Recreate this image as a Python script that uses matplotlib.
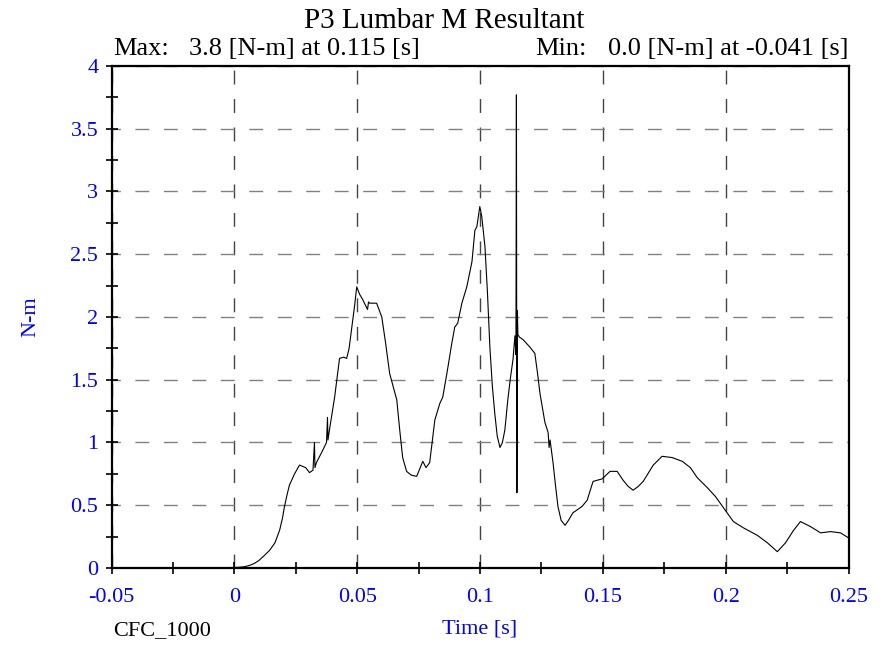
import numpy as np
import matplotlib.pyplot as plt
from matplotlib.ticker import MultipleLocator

plt.rcParams['font.family'] = ['Liberation Serif', 'DejaVu Serif']

# Lumbar moment resultant trace (time in s, moment in N-m)
time_s = [-0.05, -0.041, -0.03, -0.02, -0.01, -0.004, 0.0, 0.002, 0.004, 0.0061,
          0.0080, 0.0100, 0.0122, 0.0143, 0.0165, 0.0184, 0.0195, 0.0204, 0.0214,
          0.0224, 0.0245, 0.0265, 0.0290, 0.0306, 0.0320,
          0.0326, 0.0328, 0.0334, 0.0355, 0.0375, 0.0379, 0.0381, 0.0387, 0.0408,
          0.0420, 0.0428, 0.0445, 0.0457, 0.0467, 0.0477, 0.0490, 0.0498, 0.0510,
          0.0522, 0.0542, 0.0546, 0.0551, 0.0579, 0.0600, 0.0615, 0.0632, 0.0661,
          0.0673, 0.0685, 0.0701, 0.0720, 0.0742, 0.0767, 0.0780, 0.0795, 0.0805,
          0.0816, 0.0836, 0.0848, 0.0865, 0.0885, 0.0897, 0.0909, 0.0926, 0.0946,
          0.0967, 0.0979, 0.0987, 0.0999, 0.1007, 0.1020, 0.1030, 0.1040, 0.1050,
          0.1060, 0.1070, 0.1081, 0.1091, 0.1101, 0.1113, 0.1124, 0.1134, 0.1142,
          0.1146, 0.1148, 0.1150, 0.1152, 0.1154, 0.1160, 0.1175, 0.1203, 0.1223,
          0.1234, 0.1244, 0.1264, 0.1277, 0.1281, 0.1285, 0.1297, 0.1307, 0.1317,
          0.1330, 0.1346, 0.1360, 0.1378, 0.1415, 0.1436, 0.1460, 0.1497, 0.1529,
          0.1558, 0.1582, 0.1603, 0.1623, 0.1644, 0.1664, 0.1705, 0.1741, 0.1782,
          0.1823, 0.1856, 0.1884, 0.1925, 0.1958, 0.1998, 0.2031, 0.2072, 0.2129,
          0.2170, 0.2210, 0.2243, 0.2276, 0.2304, 0.2345, 0.2386, 0.2427, 0.2467,
          0.2500]
moment_nm = [0.002, 0.0, 0.001, 0.002, 0.002, 0.003, 0.004, 0.006, 0.010, 0.02,
             0.035, 0.06, 0.10, 0.14, 0.20, 0.30, 0.39, 0.49, 0.58,
             0.66, 0.75, 0.82, 0.80, 0.76, 0.78,
             1.00, 0.80, 0.84, 0.92, 1.00, 1.20, 1.02, 1.10, 1.36,
             1.55, 1.67, 1.68, 1.67, 1.75, 1.90, 2.10, 2.24, 2.18,
             2.14, 2.06, 2.12, 2.11, 2.11, 2.00, 1.80, 1.55, 1.34,
             1.10, 0.88, 0.77, 0.74, 0.73, 0.85, 0.80, 0.84, 1.00,
             1.18, 1.31, 1.36, 1.55, 1.79, 1.92, 1.95, 2.11, 2.24,
             2.44, 2.69, 2.72, 2.88, 2.80, 2.56, 2.20, 1.76, 1.45,
             1.23, 1.05, 0.96, 1.00, 1.10, 1.34, 1.52, 1.66, 1.85,
             1.70, 3.77, 0.60, 2.05, 1.86, 1.84, 1.82, 1.76, 1.71,
             1.55, 1.39, 1.16, 1.08, 0.96, 1.02, 0.84, 0.66, 0.49,
             0.38, 0.34, 0.38, 0.44, 0.49, 0.54, 0.69, 0.71, 0.77,
             0.77, 0.70, 0.65, 0.62, 0.65, 0.69, 0.82, 0.89, 0.88,
             0.85, 0.80, 0.72, 0.64, 0.57, 0.46, 0.37, 0.32, 0.26,
             0.20, 0.13, 0.20, 0.30, 0.37, 0.33, 0.28, 0.29, 0.28,
             0.24]

title = 'P3 Lumbar M Resultant'
max_text = ('Max:', '3.8 [N-m] at 0.115 [s]')
min_text = ('Min:', '0.0 [N-m] at -0.041 [s]')

fig = plt.figure(figsize=(8.88, 6.47), dpi=100)
ax = fig.add_axes([0.1256, 0.1221, 0.830, 0.7759])

ax.plot(time_s, moment_nm, color='black', lw=0.8)

ax.set_xlim(-0.05, 0.25)
ax.set_ylim(0, 4)
ax.xaxis.set_major_locator(MultipleLocator(0.05))
ax.xaxis.set_minor_locator(MultipleLocator(0.025))
ax.yaxis.set_major_locator(MultipleLocator(0.5))
ax.yaxis.set_minor_locator(MultipleLocator(0.25))
ax.set_xticklabels([f'{v:g}' for v in ax.get_xticks()])
ax.set_yticklabels([f'{v:g}' for v in ax.get_yticks()])

ax.tick_params(which='both', direction='inout', labelsize=16, labelcolor='blue',
               width=1.2, top=False, right=False)
ax.tick_params(which='major', length=9)
ax.tick_params(which='minor', length=9)
ax.tick_params(axis='x', pad=10)
ax.tick_params(axis='y', pad=5)
for s in ax.spines.values():
    s.set_linewidth(1.6)

ax.grid(True, which='major', axis='x', color='#444444', lw=1.0, ls=(0, (10, 10.5)))
ax.grid(True, which='major', axis='y', color='#808080', lw=1.0, ls=(4, (10, 10.5)))

ax.set_xlabel('Time [s]', fontsize=16, color='blue', labelpad=9)
ax.set_ylabel('N-m', fontsize=16, color='blue', labelpad=22)

fig.text(0.5, 0.968, title, ha='center', va='center', fontsize=21)
fig.text(0.127, 0.925, max_text[0], ha='left', va='center', fontsize=19)
fig.text(0.473, 0.925, max_text[1], ha='right', va='center', fontsize=19)
fig.text(0.603, 0.925, min_text[0], ha='left', va='center', fontsize=19)
fig.text(0.955, 0.925, min_text[1], ha='right', va='center', fontsize=19)
fig.text(0.127, 0.010, 'CFC_1000', ha='left', va='bottom', fontsize=16)

fig.savefig('out.png', dpi=100)
